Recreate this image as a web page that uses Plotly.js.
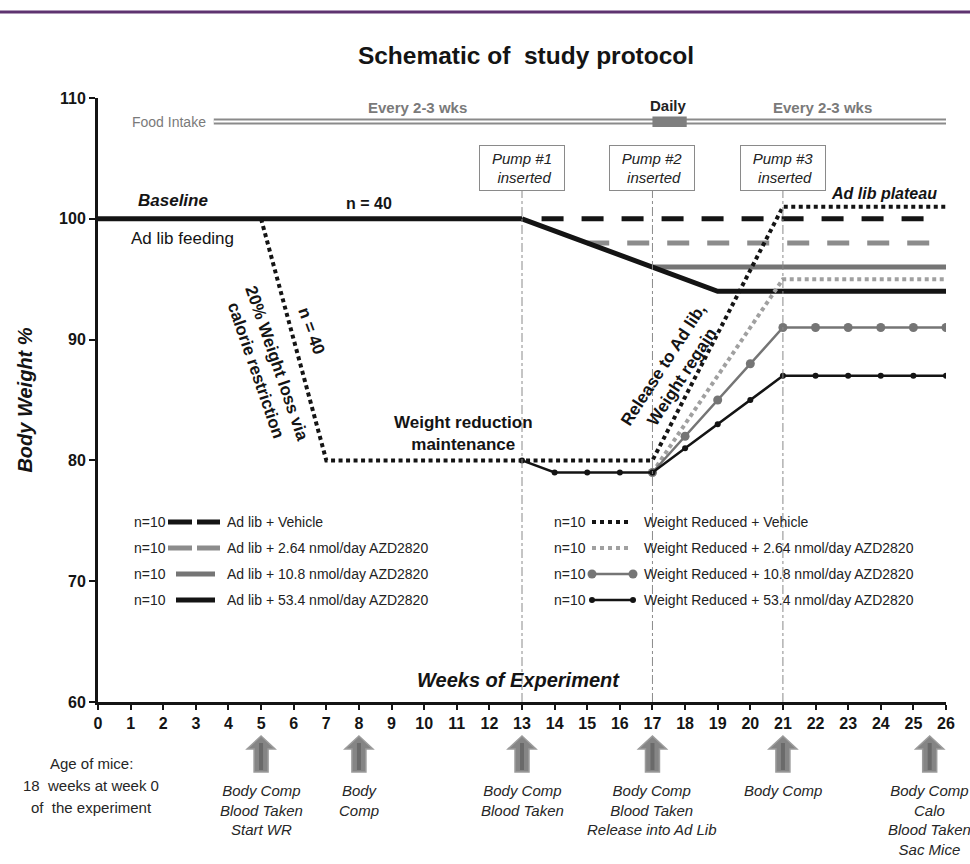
<!DOCTYPE html>
<html>
<head>
<meta charset="utf-8">
<script src="https://cdn.plot.ly/plotly-3.0.1.min.js"></script>
<style>html,body{margin:0;padding:0;background:#fff;}#chart{width:970px;height:864px;}</style>
</head>
<body>
<div id="chart"></div>
<script>
// ---------------- DATA ----------------
const weeks = [0,1,2,3,4,5,6,7,8,9,10,11,12,13,14,15,16,17,18,19,20,21,22,23,24,25,26];
const yTicks = [60,70,80,90,100,110];

const baselineX = [0,13];            const baselineY = [100,100];
const adVehX = [13.6,25.5];           const adVehY = [100,100];
const ad264X = [15,26];               const ad264Y = [98,98];
const ad108X = [17,26];               const ad108Y = [96,96];
const ad534X = [13,19,26];            const ad534Y = [100,94,94];
const wrVehX = [5,7,17,21,26];        const wrVehY = [100,80,80,101,101];
const wr264X = [17,21,26];            const wr264Y = [79,95,95];
const wr108X = [17,18,19,20,21,22,23,24,25,26];
const wr108Y = [79,82,85,88,91,91,91,91,91,91];
const wr534X = [13,14,15,16,17,18,19,20,21,22,23,24,25,26];
const wr534Y = [80,79,79,79,79,81,83,85,87,87,87,87,87,87];

const pumpWeeks = [13,17,21];
const pumpLabels = ['Pump #1<br> inserted','Pump #2<br> inserted','Pump #3<br> inserted'];

const eventWeeks = [5,8,13,17,21,25.5];
const eventLabels = [
  'Body Comp<br>Blood Taken<br>Start WR',
  'Body<br>Comp',
  'Body Comp<br>Blood Taken',
  'Body Comp<br>Blood Taken<br>Release into Ad Lib',
  'Body Comp',
  'Body Comp<br>Calo<br>Blood Taken<br>Sac Mice'
];

const ageLines = ['Age of mice:', '18&nbsp; weeks at week 0', 'of&nbsp; the experiment'];

const legendLeftLabels = ['Ad lib + Vehicle','Ad lib + 2.64 nmol/day AZD2820','Ad lib + 10.8 nmol/day AZD2820','Ad lib + 53.4 nmol/day AZD2820'];
const legendRightLabels = ['Weight Reduced + Vehicle','Weight Reduced + 2.64 nmol/day AZD2820','Weight Reduced + 10.8 nmol/day AZD2820','Weight Reduced + 53.4 nmol/day AZD2820'];
const legendN = ['n=10','n=10','n=10','n=10'];

// ---------------- LAYOUT HELPERS ----------------
const L = 98, T = 98, W = 848, H = 604;
const px = v => (v - L) / W;          // pixel x -> paper
const py = v => (T + H - v) / H;      // pixel y -> paper

const BLACK = '#141414';
const GRAY1 = '#8c8c8c';  // dashed gray
const GRAY2 = '#757575';  // solid gray
const GRAY3 = '#a0a0a0';  // dotted gray
const ARIAL = 'Liberation Sans, Arial, sans-serif';

const DASH_LONG = '22px,18px';
const DOT = '4px,3.5px';

function line(x, y, color, width, dash, extra) {
  return Object.assign({
    x: x, y: y, type: 'scatter', mode: 'lines', hoverinfo: 'skip', showlegend: false,
    line: {color: color, width: width, dash: dash || 'solid'}
  }, extra || {});
}

const traces = [
  line(ad264X, ad264Y, GRAY1, 5, DASH_LONG),
  line(ad108X, ad108Y, GRAY2, 5),
  line(adVehX, adVehY, BLACK, 5, DASH_LONG),
  line(ad534X, ad534Y, BLACK, 5),
  line(baselineX, baselineY, BLACK, 5),
  line(wr264X, wr264Y, GRAY3, 4, DOT),
  Object.assign(line(wr108X, wr108Y, GRAY2, 2.5), {mode:'lines+markers', marker:{size:9, color:GRAY2}}),
  Object.assign(line(wr534X, wr534Y, BLACK, 2.5), {mode:'lines+markers', marker:{size:6, color:BLACK}}),
  line(wrVehX, wrVehY, BLACK, 4, DOT)
];

const shapes = [];
const annotations = [];

// top purple rule
shapes.push({type:'line', xref:'paper', yref:'paper', x0:px(0), x1:px(970), y0:py(12), y1:py(12), line:{color:'#5e3370', width:3}});

// food intake double line
shapes.push({type:'line', xref:'x', yref:'paper', x0:3.55, x1:26, y0:py(121.5), y1:py(121.5), line:{color:'#8a8a8a', width:6}});
shapes.push({type:'line', xref:'x', yref:'paper', x0:3.55, x1:26, y0:py(121.5), y1:py(121.5), line:{color:'#ffffff', width:2}});
shapes.push({type:'rect', xref:'x', yref:'paper', x0:17, x1:18.05, y0:py(127), y1:py(116.5), fillcolor:'#7f7f7f', line:{width:0}});

// pump vertical dash-dot lines
pumpWeeks.forEach(w => {
  shapes.push({type:'line', xref:'x', yref:'paper', x0:w, x1:w, y0:0, y1:py(191), line:{color:'#8a8a8a', width:1, dash:'dashdot'}});
});

// bottom event arrows
eventWeeks.forEach((w, i) => {
  const cx = L + w * W / 26;
  const X = d => px(cx + d).toFixed(5);
  const Y = v => py(v).toFixed(5);
  const path = `M${X(0)},${Y(736)} L${X(14)},${Y(749)} L${X(7)},${Y(749)} L${X(7)},${Y(772)} L${X(-7)},${Y(772)} L${X(-7)},${Y(749)} L${X(-14)},${Y(749)} Z`;
  shapes.push({type:'path', xref:'paper', yref:'paper', path:path, fillcolor:'#858585', line:{color:'#9c9c9c', width:1.5}});
  shapes.push({type:'line', xref:'paper', yref:'paper', x0:px(cx), x1:px(cx), y0:py(743), y1:py(770), line:{color:'#6a6a6a', width:4}});
  annotations.push({xref:'paper', yref:'paper', x:px(cx), y:py(780), xanchor:'center', yanchor:'top', showarrow:false,
    text: eventLabels[i], align:'center',
    font:{family:ARIAL, size:15, color:'#262626', style:'italic'}});
});

// legend (drawn)
const rowY = [522, 548, 574, 600];
const leftStyles = [
  {color:BLACK, dash:'24px,5px', width:5, x0:168, x1:220},
  {color:GRAY1, dash:'24px,5px', width:5, x0:168, x1:220},
  {color:GRAY2, dash:'solid', width:5, x0:176, x1:215},
  {color:BLACK, dash:'solid', width:5, x0:176, x1:215}
];
const rightStyles = [
  {color:BLACK, dash:'4px,4px', width:4, x0:592, x1:630},
  {color:GRAY3, dash:'4px,4px', width:4, x0:592, x1:630},
  {color:GRAY2, dash:'solid', width:2.5, x0:592, x1:633, dot:9},
  {color:BLACK, dash:'solid', width:2.5, x0:592, x1:633, dot:6}
];
function legendCol(labels, styles, nX, textX) {
  labels.forEach((lab, i) => {
    const s = styles[i], y = rowY[i];
    annotations.push({xref:'paper', yref:'paper', x:px(nX), y:py(y), xanchor:'left', yanchor:'middle', showarrow:false,
      text:legendN[i], font:{family:ARIAL, size:14, color:'#222'}});
    annotations.push({xref:'paper', yref:'paper', x:px(textX), y:py(y), xanchor:'left', yanchor:'middle', showarrow:false,
      text:lab, font:{family:ARIAL, size:14, color:'#222'}});
    shapes.push({type:'line', xref:'paper', yref:'paper', x0:px(s.x0), x1:px(s.x1), y0:py(y), y1:py(y),
      line:{color:s.color, width:s.width, dash:s.dash}});
    if (s.dot) {
      [s.x0, s.x1].forEach(xx => {
        shapes.push({type:'circle', xref:'paper', yref:'paper', xsizemode:'pixel', ysizemode:'pixel',
          xanchor:px(xx), yanchor:py(y), x0:-s.dot/2, x1:s.dot/2, y0:-s.dot/2, y1:s.dot/2,
          fillcolor:s.color, line:{width:0}});
      });
    }
  });
}
legendCol(legendLeftLabels, leftStyles, 132, 225);
legendCol(legendRightLabels, rightStyles, 552, 642);

// pump boxes
pumpWeeks.forEach((w, i) => {
  annotations.push({x:w, y:104.2, xref:'x', yref:'y', showarrow:false, text:pumpLabels[i],
    width:82, height:42, borderpad:1, bordercolor:'#8a8a8a', borderwidth:1, bgcolor:'#ffffff', align:'center',
    font:{family:ARIAL, size:15, color:'#222', style:'italic'}});
});

// food intake texts
annotations.push({xref:'paper', yref:'paper', x:px(130), y:py(121.5), xanchor:'left', yanchor:'middle', showarrow:false,
  text:'Food Intake', font:{family:ARIAL, size:14, color:'#7a7a7a'}});
annotations.push({xref:'x', yref:'paper', x:9.8, y:py(107), xanchor:'center', yanchor:'middle', showarrow:false,
  text:'<b>Every 2-3 wks</b>', font:{family:ARIAL, size:15, color:'#7a7a7a'}});
annotations.push({xref:'x', yref:'paper', x:22.2, y:py(107), xanchor:'center', yanchor:'middle', showarrow:false,
  text:'<b>Every 2-3 wks</b>', font:{family:ARIAL, size:15, color:'#7a7a7a'}});
annotations.push({xref:'x', yref:'paper', x:17.5, y:py(106), xanchor:'center', yanchor:'middle', showarrow:false,
  text:'<b>Daily</b>', font:{family:ARIAL, size:15, color:'#222'}});

// in-plot labels
annotations.push({x:2.3, y:101.5, showarrow:false, text:'<b><i>Baseline</i></b>', font:{family:ARIAL, size:17, color:'#141414'}});
annotations.push({x:8.3, y:101.3, showarrow:false, text:'<b>n = 40</b>', font:{family:ARIAL, size:16, color:'#141414'}});
annotations.push({x:2.6, y:98.4, showarrow:false, text:'Ad lib feeding', font:{family:ARIAL, size:17, color:'#141414'}});
annotations.push({x:(311-L)/W*26, y:100-(330-218)/12.08, showarrow:false, textangle:70, text:'<b>n = 40</b>', font:{family:ARIAL, size:17, color:'#141414'}});
annotations.push({x:(266-L)/W*26, y:100-(366-218)/12.08, showarrow:false, textangle:71, text:'<b>20% Weight loss via<br>calorie restriction</b>', font:{family:ARIAL, size:17, color:'#141414'}});
annotations.push({x:11.2, y:82.2, showarrow:false, text:'<b>Weight reduction<br>maintenance</b>', font:{family:ARIAL, size:17, color:'#141414'}});
annotations.push({x:17.6, y:87.4, showarrow:false, textangle:-57, text:'<b>Release to Ad lib,<br>Weight regain</b>', font:{family:ARIAL, size:17, color:'#141414'}});
annotations.push({x:24.1, y:102.1, showarrow:false, text:'<b><i>Ad lib plateau</i></b>', font:{family:ARIAL, size:16, color:'#141414'}});
annotations.push({x:12.9, y:61.8, showarrow:false, text:'<b><i>Weeks of Experiment</i></b>', font:{family:ARIAL, size:20, color:'#141414'}});

// age of mice (one annotation per line for wider spacing)
ageLines.forEach((t, i) => {
  annotations.push({xref:'paper', yref:'paper', x:px(91), y:py(763 + i * 22.5), xanchor:'center', yanchor:'middle', showarrow:false,
    text:t, font:{family:ARIAL, size:15, color:'#262626'}});
});

const layout = {
  width:970, height:864,
  margin:{l:L, r:970-L-W, t:T, b:864-T-H, pad:0},
  paper_bgcolor:'#ffffff', plot_bgcolor:'#ffffff',
  showlegend:false,
  title:{text:'<b>Schematic of&nbsp; study protocol</b>', xref:'container', x:526/970, xanchor:'center', yref:'container', y:1-55/864, yanchor:'middle',
    font:{family:ARIAL, size:24.5, color:'#141414'}},
  xaxis:{range:[0,26], tickvals:weeks, ticktext:weeks.map(String), showgrid:false, zeroline:false,
    showline:true, linecolor:'#141414', linewidth:3, ticks:'outside', ticklen:5, tickwidth:2, tickcolor:'#141414',
    tickfont:{family:ARIAL, size:16, color:'#141414', weight:'bold'}, fixedrange:true},
  yaxis:{range:[60,110], tickvals:yTicks, ticktext:yTicks.map(String), showgrid:false, zeroline:false,
    showline:true, linecolor:'#141414', linewidth:3, ticks:'outside', ticklen:6, tickwidth:2, tickcolor:'#141414',
    tickfont:{family:ARIAL, size:16, color:'#141414', weight:'bold'}, fixedrange:true,
    title:{text:'<b><i>Body Weight %</i></b>', standoff:22, font:{family:ARIAL, size:20, color:'#141414'}}},
  shapes:shapes,
  annotations:annotations
};

Plotly.newPlot('chart', traces, layout, {staticPlot:true, displayModeBar:false});
</script>
</body>
</html>
